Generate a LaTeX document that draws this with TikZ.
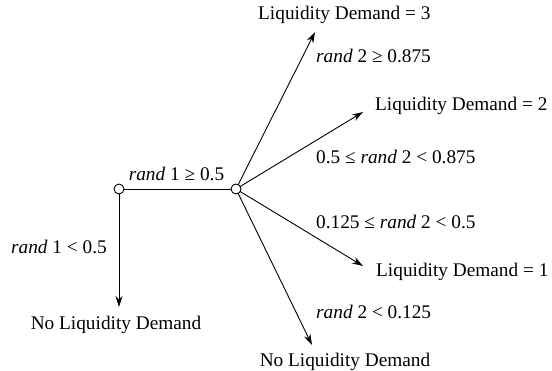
\documentclass[tikz,border=0pt]{standalone}
\usepackage{fontspec}
\setmainfont{Liberation Serif}
\usetikzlibrary{arrows.meta}
\begin{document}
\begin{tikzpicture}[x=1pt,y=-1pt,
  lbl/.style={inner sep=0pt,font=\fontsize{19.3}{23}\selectfont},
  dot/.style={circle,draw,fill=white,inner sep=0pt,minimum size=10pt,line width=0.9pt},
  conn/.style={line width=0.9pt,-{Stealth[length=11pt,width=7pt]}},
  plain/.style={line width=0.9pt}]
\useasboundingbox (0,0) rectangle (552,370);
% connectors first so circles lie on top
\coordinate (t0) at (119,307);
\coordinate (t3) at (315,32);
\coordinate (t2) at (363,112);
\coordinate (t1) at (363,266);
\coordinate (tn) at (312,345);
\coordinate (c1) at (119,189);
\coordinate (c2) at (236,189);
\draw[plain] (c1) -- (c2);
\draw[conn] (c1) -- (t0);
\draw[conn] (c2) -- (t3);
\draw[conn] (c2) -- (t2);
\draw[conn] (c2) -- (t1);
\draw[conn] (c2) -- (tn);
\node[dot] (n1) at (c1) {};
\node[dot] (n2) at (c2) {};
% labels
\node[lbl] (l1) at (176.5,174) {\textit{rand} 1 ≥ 0.5};
\node[lbl,anchor=east] (l0) at (107,247) {\textit{rand} 1 < 0.5};
\node[lbl] (nd1) at (116,325) {No Liquidity Demand};
\node[lbl,anchor=west] (ld3) at (258,15) {Liquidity Demand = 3};
\node[lbl,anchor=west] (r3) at (316,56) {\textit{rand} 2 ≥ 0.875};
\node[lbl,anchor=west] (ld2) at (375,106) {Liquidity Demand = 2};
\node[lbl,anchor=west] (r2) at (316,157) {0.5 ≤ \textit{rand} 2 < 0.875};
\node[lbl,anchor=west] (r1) at (316,222) {0.125 ≤ \textit{rand} 2 < 0.5};
\node[lbl,anchor=west] (ld1) at (376,272) {Liquidity Demand = 1};
\node[lbl,anchor=west] (r0) at (316,312) {\textit{rand} 2 < 0.125};
\node[lbl] (nd2) at (345,362) {No Liquidity Demand};
\end{tikzpicture}
\end{document}
